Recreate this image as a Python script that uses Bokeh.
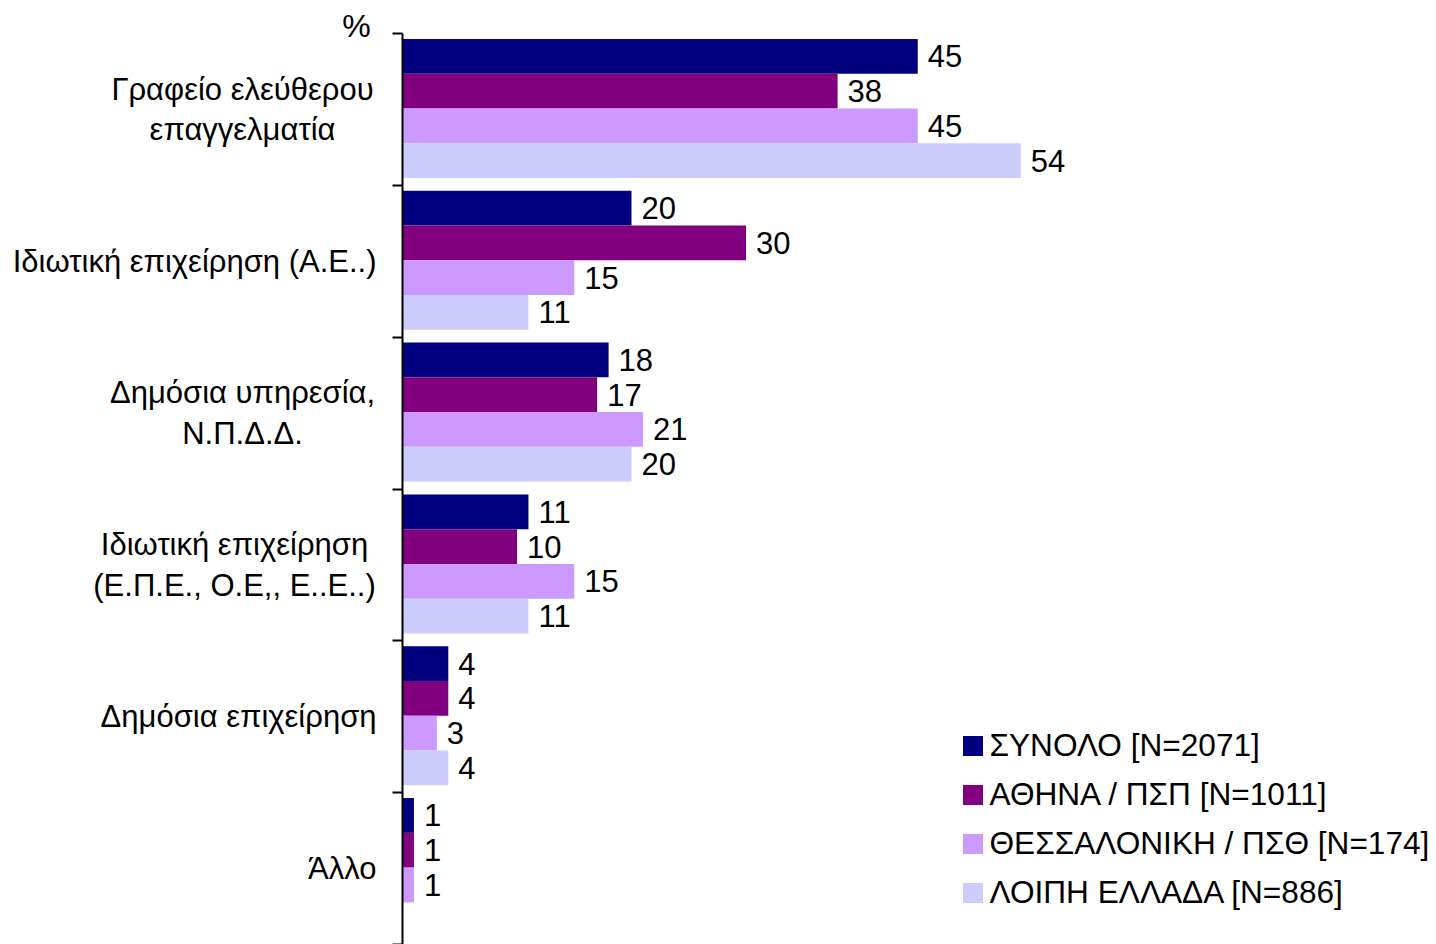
from bokeh.plotting import figure
from bokeh.models import Range1d, FixedTicker, Legend, LegendItem, ColumnDataSource, LinearAxis
from bokeh.core.properties import value
from bokeh.embed import file_html
from bokeh.resources import INLINE

categories = [
    "Γραφείο ελεύθερου\nεπαγγελματία",
    "Ιδιωτική επιχείρηση (Α.Ε..)",
    "Δημόσια υπηρεσία,\nΝ.Π.Δ.Δ.",
    "Ιδιωτική επιχείρηση\n(Ε.Π.Ε., Ο.Ε,, Ε..Ε..)",
    "Δημόσια επιχείρηση",
    "Άλλο",
]
series_names = [
    "ΣΥΝΟΛΟ [N=2071]",
    "ΑΘΗΝΑ / ΠΣΠ [N=1011]",
    "ΘΕΣΣΑΛΟΝΙΚΗ / ΠΣΘ [N=174]",
    "ΛΟΙΠΗ ΕΛΛΑΔΑ [N=886]",
]
synolo = [45, 20, 18, 11, 4, 1]
athina = [38, 30, 17, 10, 4, 1]
thessaloniki = [45, 15, 21, 15, 3, 1]
loipi = [54, 11, 20, 11, 4, None]
series_values = [synolo, athina, thessaloniki, loipi]
colors = ["#000080", "#800080", "#CC99FF", "#CCCCFF"]
unit_label = "%"

FONT = "Liberation Sans"
FS = "31px"

n = len(categories)
px_per_unit = 11.45
x_start = -402 / px_per_unit
x_end = (1436 - 402) / px_per_unit
cat_px = (944 - 33) / n
y_top = n + 33 / cat_px

p = figure(width=1436, height=944, output_backend="svg", toolbar_location=None,
           x_range=Range1d(x_start, x_end), y_range=Range1d(0, y_top),
           min_border_left=0, min_border_top=0, min_border_bottom=0, min_border_right=0,
           x_axis_location=None, y_axis_location=None)
p.outline_line_color = None
p.grid.visible = False

ax = LinearAxis(fixed_location=0, bounds=(0, n))
ax.ticker = FixedTicker(ticks=list(range(n + 1)))
ax.major_label_overrides = {i: "" for i in range(n + 1)}
ax.major_label_standoff = 0
ax.major_tick_out = 10
ax.major_tick_in = 0
ax.minor_tick_out = 0
ax.minor_tick_in = 0
ax.axis_line_width = 2
ax.major_tick_line_width = 2
ax.axis_line_color = "black"
ax.major_tick_line_color = "black"
p.add_layout(ax, "left")

bar_h = 0.229
shift = 1 / cat_px
items = []
for j, (name, vals, col) in enumerate(zip(series_names, series_values, colors)):
    ys, xs, labs = [], [], []
    for i, v in enumerate(vals):
        if v is None:
            continue
        ys.append(n - 0.5 - i + (1.5 - j) * bar_h + shift)
        xs.append(v)
        labs.append(str(v))
    src = ColumnDataSource(dict(y=ys, x=xs, lab=labs))
    r = p.hbar(y="y", right="x", left=0, height=bar_h, source=src,
               fill_color=col, line_color=None)
    p.text(x="x", y="y", text="lab", source=src, x_offset=10,
           text_baseline="middle", text_align="left",
           text_font=value(FONT), text_font_size=FS, text_color="black")
    items.append(LegendItem(label=name, renderers=[r]))

# category labels: anchor x (data units) and alignment are layout choices
label_anchor_x = [-13.97, -2.27, -13.97, -14.67, -2.27, -2.27]
label_align = ["center", "right", "center", "center", "right", "right"]
cat_src = ColumnDataSource(dict(
    x=label_anchor_x, y=[n - 0.5 - i for i in range(n)],
    t=categories, a=label_align))
p.text(x="x", y="y", text="t", text_align="a", source=cat_src,
       text_baseline="middle", text_font=value(FONT), text_font_size=FS,
       text_color="black", text_line_height=1.15)

p.text(x=[-4.02], y=[n + 8 / cat_px], text=[unit_label], text_align="center",
       text_baseline="middle", text_font=value(FONT), text_font_size="32px",
       text_color="black")

legend = Legend(items=items, location=(959.5, 33.5), orientation="vertical",
                glyph_width=25, glyph_height=25, label_height=37, spacing=12,
                label_standoff=5, padding=0, margin=0,
                label_text_font=FONT, label_text_font_size="31.6px",
                label_text_color="black", border_line_color=None,
                background_fill_alpha=0)
p.add_layout(legend, "center")

open("out.html", "w").write(file_html(p, INLINE))
